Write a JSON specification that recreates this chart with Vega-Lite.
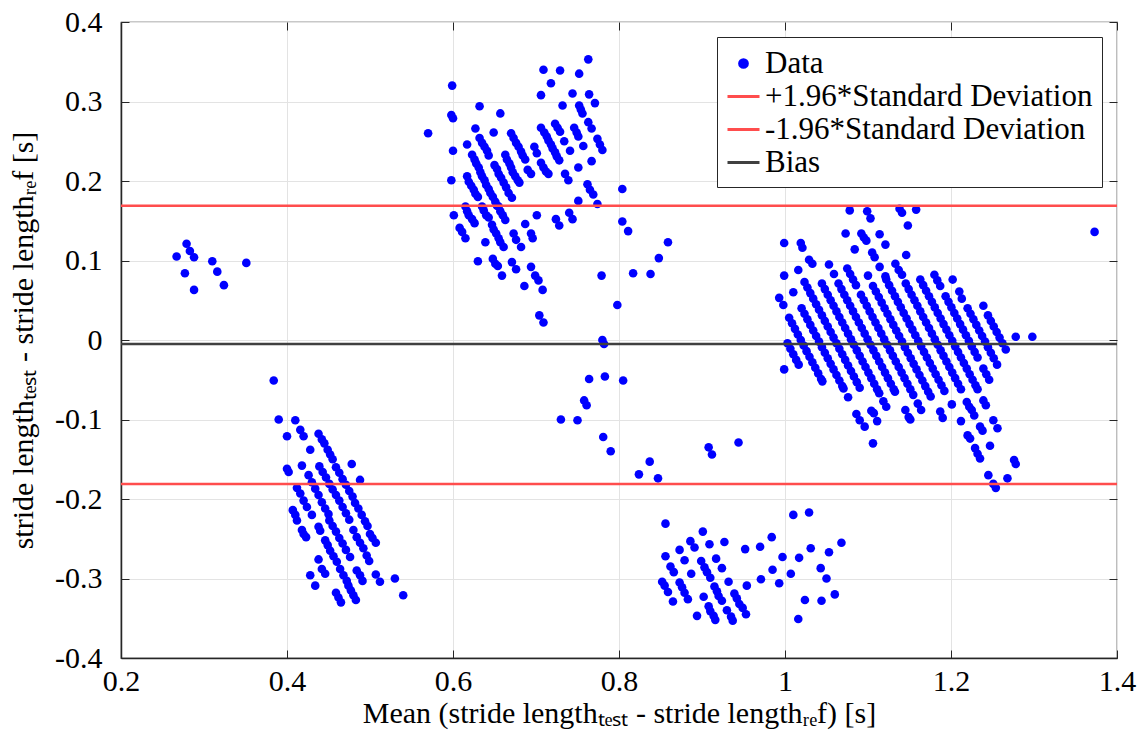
{
  "$schema": "https://vega.github.io/schema/vega-lite/v6.json",
  "width": 996,
  "height": 636,
  "autosize": {"type": "none"},
  "padding": {"left": 121, "top": 22, "right": 27, "bottom": 96},
  "background": "white",
  "config": {
    "view": {"stroke": "#262626", "strokeWidth": 1.2},
    "font": "Liberation Serif",
    "axis": {
      "labelFont": "Liberation Serif", "labelFontSize": 30, "labelColor": "#000000",
      "titleFont": "Liberation Serif", "titleFontSize": 30, "titleFontWeight": "normal", "titleColor": "#000000",
      "domainColor": "#262626", "domainWidth": 1.5, "tickColor": "#262626", "tickSize": -8, "tickWidth": 1,
      "gridColor": "#e3e3e3", "gridWidth": 1, "labelFlush": false, "labelOverlap": false
    },
    "legend": {
      "title": null,
      "orient": "top-right",
      "offset": 15,
      "padding": 9,
      "strokeColor": "#262626",
      "fillColor": "white",
      "labelFont": "Liberation Serif",
      "labelFontSize": 31,
      "labelColor": "#000000",
      "labelLimit": 600,
      "labelOffset": 4,
      "symbolType": "stroke",
      "symbolSize": 1024,
      "symbolStrokeWidth": 3,
      "rowPadding": -1
    }
  },
  "resolve": {"axis": {"x": "independent", "y": "independent"}},
  "datasets": {
    "pts": [
      {"x":0.267,"y":0.105},{"x":0.279,"y":0.121},{"x":0.283,"y":0.112},{"x":0.288,"y":0.104},{"x":0.277,"y":0.084},{"x":0.288,"y":0.063},{"x":0.310,"y":0.099},{"x":0.316,"y":0.086},{"x":0.324,"y":0.069},{"x":0.351,"y":0.097},
      {"x":0.599,"y":0.320},{"x":0.598,"y":0.283},{"x":0.600,"y":0.279},{"x":0.600,"y":0.238},{"x":0.598,"y":0.201},{"x":0.601,"y":0.157},{"x":0.632,"y":0.294},{"x":0.657,"y":0.285},{"x":0.627,"y":0.266},{"x":0.649,"y":0.261},{"x":0.617,"y":0.246},
      {"x":0.709,"y":0.340},{"x":0.729,"y":0.339},{"x":0.752,"y":0.335},{"x":0.763,"y":0.353},{"x":0.718,"y":0.323},{"x":0.706,"y":0.308},{"x":0.744,"y":0.310},{"x":0.764,"y":0.309},{"x":0.732,"y":0.295},{"x":0.771,"y":0.298},
      {"x":0.752,"y":0.295},{"x":0.754,"y":0.290},{"x":0.756,"y":0.285},{"x":0.763,"y":0.274},{"x":0.767,"y":0.266},{"x":0.706,"y":0.267},{"x":0.723,"y":0.272},{"x":0.726,"y":0.267},{"x":0.729,"y":0.262},
      {"x":0.746,"y":0.267},{"x":0.749,"y":0.261},{"x":0.751,"y":0.256},{"x":0.734,"y":0.250},{"x":0.741,"y":0.238},{"x":0.757,"y":0.244},{"x":0.774,"y":0.253},{"x":0.777,"y":0.246},{"x":0.780,"y":0.239},
      {"x":0.698,"y":0.243},{"x":0.701,"y":0.235},{"x":0.767,"y":0.225},{"x":0.751,"y":0.217},{"x":0.735,"y":0.209},{"x":0.739,"y":0.201},{"x":0.762,"y":0.196},{"x":0.765,"y":0.189},{"x":0.769,"y":0.183},
      {"x":0.751,"y":0.175},{"x":0.774,"y":0.171},{"x":0.724,"y":0.152},{"x":0.728,"y":0.144},{"x":0.740,"y":0.160},{"x":0.744,"y":0.152},{"x":0.701,"y":0.157},{"x":0.687,"y":0.146},{"x":0.694,"y":0.134},{"x":0.696,"y":0.128},
      {"x":0.690,"y":0.214},{"x":0.694,"y":0.209},{"x":0.706,"y":0.223},{"x":0.709,"y":0.217},{"x":0.712,"y":0.212},{"x":0.715,"y":0.209},
      {"x":0.710,"y":0.261},{"x":0.713,"y":0.256},{"x":0.715,"y":0.251},{"x":0.718,"y":0.246},{"x":0.720,"y":0.241},{"x":0.723,"y":0.236},{"x":0.725,"y":0.231},{"x":0.728,"y":0.226},
      {"x":0.670,"y":0.260},{"x":0.673,"y":0.254},{"x":0.676,"y":0.248},{"x":0.679,"y":0.243},{"x":0.682,"y":0.237},{"x":0.684,"y":0.232},{"x":0.687,"y":0.227},
      {"x":0.663,"y":0.233},{"x":0.665,"y":0.227},{"x":0.668,"y":0.222},{"x":0.670,"y":0.217},{"x":0.672,"y":0.211},{"x":0.675,"y":0.206},{"x":0.678,"y":0.201},{"x":0.680,"y":0.198},
      {"x":0.650,"y":0.220},{"x":0.653,"y":0.215},{"x":0.655,"y":0.209},{"x":0.658,"y":0.204},{"x":0.661,"y":0.198},{"x":0.664,"y":0.192},{"x":0.667,"y":0.185},{"x":0.671,"y":0.179},
      {"x":0.632,"y":0.254},{"x":0.635,"y":0.248},{"x":0.638,"y":0.243},{"x":0.641,"y":0.238},{"x":0.643,"y":0.232},
      {"x":0.623,"y":0.233},{"x":0.626,"y":0.227},{"x":0.628,"y":0.222},{"x":0.631,"y":0.217},{"x":0.633,"y":0.211},{"x":0.635,"y":0.206},{"x":0.638,"y":0.201},{"x":0.640,"y":0.195},{"x":0.643,"y":0.190},{"x":0.645,"y":0.185},{"x":0.648,"y":0.180},{"x":0.651,"y":0.174},{"x":0.653,"y":0.169},
      {"x":0.617,"y":0.206},{"x":0.619,"y":0.199},{"x":0.622,"y":0.194},{"x":0.625,"y":0.189},{"x":0.627,"y":0.184},{"x":0.630,"y":0.180},
      {"x":0.615,"y":0.168},{"x":0.617,"y":0.162},{"x":0.619,"y":0.157},{"x":0.623,"y":0.152},{"x":0.626,"y":0.147},
      {"x":0.608,"y":0.141},{"x":0.611,"y":0.136},{"x":0.615,"y":0.128},
      {"x":0.635,"y":0.168},{"x":0.637,"y":0.163},{"x":0.640,"y":0.157},{"x":0.643,"y":0.154},
      {"x":0.655,"y":0.168},{"x":0.657,"y":0.162},{"x":0.660,"y":0.157},{"x":0.663,"y":0.151},
      {"x":0.647,"y":0.145},{"x":0.649,"y":0.139},{"x":0.652,"y":0.134},{"x":0.655,"y":0.128},{"x":0.657,"y":0.123},{"x":0.661,"y":0.117},
      {"x":0.673,"y":0.134},{"x":0.676,"y":0.126},{"x":0.682,"y":0.117},{"x":0.639,"y":0.123},
      {"x":0.630,"y":0.099},{"x":0.648,"y":0.102},{"x":0.651,"y":0.096},{"x":0.654,"y":0.093},{"x":0.659,"y":0.081},{"x":0.671,"y":0.098},{"x":0.676,"y":0.089},
      {"x":0.694,"y":0.092},{"x":0.699,"y":0.081},{"x":0.703,"y":0.075},{"x":0.686,"y":0.068},{"x":0.708,"y":0.063},
      {"x":0.704,"y":0.031},{"x":0.709,"y":0.022},{"x":0.798,"y":0.044},{"x":0.780,"y":0.000},{"x":0.782,"y":-0.005},{"x":0.764,"y":-0.049},{"x":0.783,"y":-0.046},{"x":0.805,"y":-0.051},
      {"x":0.758,"y":-0.076},{"x":0.761,"y":-0.082},{"x":0.730,"y":-0.100},{"x":0.750,"y":-0.101},{"x":0.781,"y":-0.122},{"x":0.790,"y":-0.140},{"x":0.837,"y":-0.153},{"x":0.824,"y":-0.169},{"x":0.847,"y":-0.174},
      {"x":0.908,"y":-0.135},{"x":0.912,"y":-0.144},{"x":0.944,"y":-0.129},
      {"x":0.779,"y":0.081},{"x":0.817,"y":0.084},{"x":0.838,"y":0.083},{"x":0.848,"y":0.103},{"x":0.859,"y":0.123},{"x":0.804,"y":0.190},{"x":0.804,"y":0.149},{"x":0.811,"y":0.137},{"x":0.570,"y":0.260},
      {"x":0.384,"y":-0.051},{"x":0.390,"y":-0.100},{"x":0.410,"y":-0.101},{"x":0.416,"y":-0.113},{"x":0.420,"y":-0.121},{"x":0.400,"y":-0.121},
      {"x":0.438,"y":-0.118},{"x":0.442,"y":-0.125},{"x":0.445,"y":-0.130},{"x":0.449,"y":-0.138},{"x":0.452,"y":-0.144},{"x":0.455,"y":-0.150},
      {"x":0.428,"y":-0.138},{"x":0.400,"y":-0.162},{"x":0.402,"y":-0.166},{"x":0.418,"y":-0.158},{"x":0.478,"y":-0.156},{"x":0.488,"y":-0.176},
      {"x":0.426,"y":-0.170},{"x":0.430,"y":-0.179},{"x":0.434,"y":-0.187},{"x":0.438,"y":-0.195},{"x":0.442,"y":-0.204},{"x":0.446,"y":-0.212},{"x":0.450,"y":-0.219},
      {"x":0.439,"y":-0.159},{"x":0.443,"y":-0.166},{"x":0.447,"y":-0.173},{"x":0.451,"y":-0.181},{"x":0.455,"y":-0.188},{"x":0.459,"y":-0.195},{"x":0.463,"y":-0.202},{"x":0.467,"y":-0.210},{"x":0.471,"y":-0.218},{"x":0.475,"y":-0.226},
      {"x":0.459,"y":-0.160},{"x":0.463,"y":-0.167},{"x":0.467,"y":-0.175},{"x":0.471,"y":-0.182},{"x":0.475,"y":-0.190},{"x":0.479,"y":-0.197},{"x":0.482,"y":-0.205},{"x":0.486,"y":-0.212},{"x":0.490,"y":-0.220},{"x":0.494,"y":-0.228},{"x":0.497,"y":-0.234},{"x":0.500,"y":-0.244},{"x":0.503,"y":-0.249},{"x":0.507,"y":-0.255},
      {"x":0.412,"y":-0.186},{"x":0.416,"y":-0.193},{"x":0.420,"y":-0.202},{"x":0.424,"y":-0.210},{"x":0.430,"y":-0.220},
      {"x":0.407,"y":-0.214},{"x":0.410,"y":-0.220},{"x":0.412,"y":-0.227},{"x":0.418,"y":-0.239},{"x":0.420,"y":-0.244},{"x":0.423,"y":-0.248},{"x":0.438,"y":-0.235},{"x":0.440,"y":-0.240},
      {"x":0.451,"y":-0.227},{"x":0.455,"y":-0.234},{"x":0.459,"y":-0.241},{"x":0.463,"y":-0.249},{"x":0.467,"y":-0.256},{"x":0.471,"y":-0.264},{"x":0.476,"y":-0.273},
      {"x":0.446,"y":-0.252},{"x":0.449,"y":-0.258},{"x":0.452,"y":-0.265},
      {"x":0.480,"y":-0.239},{"x":0.484,"y":-0.248},{"x":0.488,"y":-0.255},{"x":0.492,"y":-0.262},{"x":0.496,"y":-0.271},{"x":0.499,"y":-0.278},
      {"x":0.456,"y":-0.272},{"x":0.460,"y":-0.279},{"x":0.464,"y":-0.288},{"x":0.468,"y":-0.296},{"x":0.472,"y":-0.303},
      {"x":0.438,"y":-0.276},{"x":0.442,"y":-0.288},{"x":0.446,"y":-0.294},{"x":0.428,"y":-0.296},{"x":0.434,"y":-0.309},
      {"x":0.474,"y":-0.309},{"x":0.477,"y":-0.315},{"x":0.480,"y":-0.321},{"x":0.483,"y":-0.327},{"x":0.484,"y":-0.290},{"x":0.488,"y":-0.296},{"x":0.491,"y":-0.303},
      {"x":0.507,"y":-0.295},{"x":0.512,"y":-0.304},{"x":0.530,"y":-0.300},{"x":0.540,"y":-0.321},{"x":0.459,"y":-0.318},{"x":0.462,"y":-0.324},{"x":0.465,"y":-0.330},
      {"x":0.856,"y":-0.231},{"x":0.901,"y":-0.241},{"x":0.886,"y":-0.253},{"x":0.891,"y":-0.261},{"x":0.909,"y":-0.257},{"x":0.927,"y":-0.254},{"x":0.873,"y":-0.264},{"x":0.856,"y":-0.272},{"x":0.879,"y":-0.277},{"x":0.899,"y":-0.278},
      {"x":0.917,"y":-0.275},{"x":0.862,"y":-0.285},{"x":0.866,"y":-0.292},{"x":0.887,"y":-0.294},{"x":0.903,"y":-0.286},{"x":0.906,"y":-0.292},{"x":0.910,"y":-0.299},{"x":0.924,"y":-0.287},{"x":0.952,"y":-0.263},{"x":0.970,"y":-0.260},
      {"x":0.984,"y":-0.248},{"x":0.997,"y":-0.273},{"x":1.017,"y":-0.274},{"x":0.985,"y":-0.289},{"x":0.971,"y":-0.301},{"x":0.954,"y":-0.309},{"x":0.932,"y":-0.304},{"x":0.993,"y":-0.306},{"x":1.007,"y":-0.294},{"x":1.010,"y":-0.220},
      {"x":1.029,"y":-0.217},{"x":1.031,"y":-0.262},{"x":1.053,"y":-0.267},{"x":1.068,"y":-0.255},{"x":1.043,"y":-0.287},{"x":1.050,"y":-0.300},{"x":1.024,"y":-0.327},{"x":1.044,"y":-0.328},{"x":1.060,"y":-0.320},{"x":1.016,"y":-0.351},
      {"x":0.852,"y":-0.304},{"x":0.855,"y":-0.309},{"x":0.859,"y":-0.317},{"x":0.865,"y":-0.329},{"x":0.873,"y":-0.305},{"x":0.876,"y":-0.311},{"x":0.879,"y":-0.318},{"x":0.883,"y":-0.326},{"x":0.902,"y":-0.323},{"x":0.894,"y":-0.347},
      {"x":0.915,"y":-0.310},{"x":0.918,"y":-0.316},{"x":0.920,"y":-0.322},{"x":0.924,"y":-0.328},{"x":0.908,"y":-0.335},{"x":0.910,"y":-0.341},{"x":0.914,"y":-0.347},{"x":0.916,"y":-0.352},
      {"x":0.939,"y":-0.319},{"x":0.942,"y":-0.325},{"x":0.945,"y":-0.332},{"x":0.949,"y":-0.337},{"x":0.953,"y":-0.345},{"x":0.930,"y":-0.340},{"x":0.935,"y":-0.348},{"x":0.937,"y":-0.353},
      {"x":1.003,"y":-0.004},{"x":1.0065,"y":-0.011},{"x":1.010,"y":-0.018},{"x":1.0135,"y":-0.025},{"x":1.0165,"y":-0.031},
      {"x":1.005,"y":0.028},{"x":1.0085,"y":0.021},{"x":1.012,"y":0.014},{"x":1.0155,"y":0.007},{"x":1.019,"y":0.000},{"x":1.0225,"y":-0.007},{"x":1.026,"y":-0.014},{"x":1.0295,"y":-0.021},{"x":1.033,"y":-0.028},{"x":1.0365,"y":-0.035},{"x":1.040,"y":-0.042},{"x":1.0435,"y":-0.049},{"x":1.045,"y":-0.052},
      {"x":1.020,"y":0.040},{"x":1.0235,"y":0.033},{"x":1.027,"y":0.026},{"x":1.0305,"y":0.019},{"x":1.034,"y":0.012},{"x":1.0375,"y":0.005},{"x":1.041,"y":-0.002},{"x":1.0445,"y":-0.009},{"x":1.048,"y":-0.016},{"x":1.0515,"y":-0.023},{"x":1.055,"y":-0.030},{"x":1.0585,"y":-0.037},{"x":1.062,"y":-0.044},{"x":1.0655,"y":-0.051},{"x":1.069,"y":-0.058},{"x":1.0705,"y":-0.061},
      {"x":1.0235,"y":0.073},{"x":1.027,"y":0.066},{"x":1.0305,"y":0.059},{"x":1.034,"y":0.052},{"x":1.0375,"y":0.045},{"x":1.041,"y":0.038},{"x":1.0445,"y":0.031},{"x":1.048,"y":0.024},{"x":1.0515,"y":0.017},{"x":1.055,"y":0.010},{"x":1.0585,"y":0.003},{"x":1.062,"y":-0.004},{"x":1.0655,"y":-0.011},{"x":1.069,"y":-0.018},{"x":1.0725,"y":-0.025},{"x":1.076,"y":-0.032},{"x":1.0795,"y":-0.039},{"x":1.083,"y":-0.046},{"x":1.0865,"y":-0.053},{"x":1.090,"y":-0.060},
      {"x":1.0445,"y":0.071},{"x":1.048,"y":0.064},{"x":1.0515,"y":0.057},{"x":1.055,"y":0.050},{"x":1.0585,"y":0.043},{"x":1.062,"y":0.036},{"x":1.0655,"y":0.029},{"x":1.069,"y":0.022},{"x":1.0725,"y":0.015},{"x":1.076,"y":0.008},{"x":1.0795,"y":0.001},{"x":1.083,"y":-0.006},{"x":1.0865,"y":-0.013},{"x":1.090,"y":-0.020},{"x":1.0935,"y":-0.027},{"x":1.097,"y":-0.034},{"x":1.1005,"y":-0.041},{"x":1.104,"y":-0.048},{"x":1.1075,"y":-0.055},{"x":1.111,"y":-0.062},{"x":1.1135,"y":-0.067},{"x":1.1185,"y":-0.077},{"x":1.122,"y":-0.084},
      {"x":1.0645,"y":0.071},{"x":1.068,"y":0.064},{"x":1.0715,"y":0.057},{"x":1.075,"y":0.050},{"x":1.0785,"y":0.043},{"x":1.082,"y":0.036},{"x":1.0855,"y":0.029},{"x":1.089,"y":0.022},{"x":1.0925,"y":0.015},{"x":1.096,"y":0.008},{"x":1.0995,"y":0.001},{"x":1.103,"y":-0.006},{"x":1.1065,"y":-0.013},{"x":1.110,"y":-0.020},{"x":1.1135,"y":-0.027},{"x":1.117,"y":-0.034},{"x":1.1205,"y":-0.041},{"x":1.124,"y":-0.048},{"x":1.1275,"y":-0.055},{"x":1.131,"y":-0.062},{"x":1.1325,"y":-0.065},
      {"x":1.075,"y":0.090},{"x":1.0785,"y":0.083},{"x":1.082,"y":0.076},{"x":1.0855,"y":0.069},{"x":1.0915,"y":0.057},{"x":1.095,"y":0.050},{"x":1.0985,"y":0.043},{"x":1.102,"y":0.036},{"x":1.1055,"y":0.029},{"x":1.109,"y":0.022},{"x":1.1125,"y":0.015},{"x":1.116,"y":0.008},{"x":1.1195,"y":0.001},{"x":1.123,"y":-0.006},{"x":1.1265,"y":-0.013},{"x":1.130,"y":-0.020},{"x":1.1335,"y":-0.027},{"x":1.137,"y":-0.034},{"x":1.1405,"y":-0.041},{"x":1.144,"y":-0.048},{"x":1.1475,"y":-0.055},{"x":1.151,"y":-0.062},{"x":1.1545,"y":-0.069},{"x":1.160,"y":-0.080},{"x":1.164,"y":-0.088},
      {"x":1.106,"y":0.068},{"x":1.1095,"y":0.061},{"x":1.113,"y":0.054},{"x":1.1165,"y":0.047},{"x":1.120,"y":0.040},{"x":1.1235,"y":0.033},{"x":1.127,"y":0.026},{"x":1.1305,"y":0.019},{"x":1.134,"y":0.012},{"x":1.1375,"y":0.005},{"x":1.141,"y":-0.002},{"x":1.1445,"y":-0.009},{"x":1.148,"y":-0.016},{"x":1.1515,"y":-0.023},{"x":1.155,"y":-0.030},{"x":1.1585,"y":-0.037},{"x":1.162,"y":-0.044},{"x":1.1655,"y":-0.051},{"x":1.169,"y":-0.058},{"x":1.1725,"y":-0.065},{"x":1.1755,"y":-0.071},
      {"x":1.122,"y":0.076},{"x":1.1255,"y":0.069},{"x":1.129,"y":0.062},{"x":1.1325,"y":0.055},{"x":1.136,"y":0.048},{"x":1.1395,"y":0.041},{"x":1.143,"y":0.034},{"x":1.1465,"y":0.027},{"x":1.150,"y":0.020},{"x":1.1535,"y":0.013},{"x":1.157,"y":0.006},{"x":1.1605,"y":-0.001},{"x":1.164,"y":-0.008},{"x":1.1675,"y":-0.015},{"x":1.171,"y":-0.022},{"x":1.1745,"y":-0.029},{"x":1.178,"y":-0.036},{"x":1.1815,"y":-0.043},{"x":1.185,"y":-0.050},{"x":1.1885,"y":-0.057},{"x":1.192,"y":-0.064},
      {"x":1.1455,"y":0.071},{"x":1.149,"y":0.064},{"x":1.1525,"y":0.057},{"x":1.156,"y":0.050},{"x":1.1595,"y":0.043},{"x":1.163,"y":0.036},{"x":1.1665,"y":0.029},{"x":1.170,"y":0.022},{"x":1.1735,"y":0.015},{"x":1.177,"y":0.008},{"x":1.1805,"y":0.001},{"x":1.184,"y":-0.006},{"x":1.1875,"y":-0.013},{"x":1.191,"y":-0.020},{"x":1.1945,"y":-0.027},{"x":1.198,"y":-0.034},{"x":1.2015,"y":-0.041},{"x":1.205,"y":-0.048},{"x":1.2085,"y":-0.055},{"x":1.212,"y":-0.062},
      {"x":1.163,"y":0.076},{"x":1.1665,"y":0.069},{"x":1.170,"y":0.062},{"x":1.1735,"y":0.055},{"x":1.177,"y":0.048},{"x":1.1805,"y":0.041},{"x":1.184,"y":0.034},{"x":1.1875,"y":0.027},{"x":1.191,"y":0.020},{"x":1.1945,"y":0.013},{"x":1.198,"y":0.006},{"x":1.2015,"y":-0.001},{"x":1.205,"y":-0.008},{"x":1.2085,"y":-0.015},{"x":1.212,"y":-0.022},{"x":1.2155,"y":-0.029},{"x":1.219,"y":-0.036},{"x":1.2225,"y":-0.043},{"x":1.226,"y":-0.050},{"x":1.2295,"y":-0.057},{"x":1.232,"y":-0.062},
      {"x":1.180,"y":0.082},{"x":1.1835,"y":0.075},{"x":1.187,"y":0.068},{"x":1.1935,"y":0.055},{"x":1.197,"y":0.048},{"x":1.2005,"y":0.041},{"x":1.204,"y":0.034},{"x":1.2075,"y":0.027},{"x":1.211,"y":0.020},{"x":1.2145,"y":0.013},{"x":1.218,"y":0.006},{"x":1.2215,"y":-0.001},{"x":1.225,"y":-0.008},{"x":1.2285,"y":-0.015},{"x":1.232,"y":-0.022},{"x":1.239,"y":-0.036},{"x":1.2425,"y":-0.043},{"x":1.246,"y":-0.050},
      {"x":1.202,"y":0.076},{"x":1.210,"y":0.061},{"x":1.213,"y":0.052},{"x":1.220,"y":0.040},{"x":1.2235,"y":0.033},{"x":1.227,"y":0.026},{"x":1.2305,"y":0.019},{"x":1.234,"y":0.012},{"x":1.2375,"y":0.005},{"x":1.241,"y":-0.002},{"x":1.2445,"y":-0.009},{"x":1.248,"y":-0.016},{"x":1.2515,"y":-0.023},{"x":1.2555,"y":-0.031},
      {"x":1.239,"y":0.043},{"x":1.2445,"y":0.031},{"x":1.248,"y":0.024},{"x":1.2515,"y":0.017},{"x":1.255,"y":0.010},{"x":1.2585,"y":0.003},{"x":1.262,"y":-0.004},{"x":1.266,"y":-0.012},
      {"x":1.078,"y":0.163},{"x":1.099,"y":0.162},{"x":1.103,"y":0.153},{"x":1.138,"y":0.165},{"x":1.141,"y":0.160},{"x":1.158,"y":0.164},{"x":1.148,"y":0.144},{"x":1.073,"y":0.134},{"x":1.092,"y":0.134},{"x":1.095,"y":0.129},
      {"x":1.098,"y":0.125},{"x":1.114,"y":0.133},{"x":1.121,"y":0.120},{"x":1.084,"y":0.114},{"x":1.105,"y":0.110},{"x":1.108,"y":0.104},{"x":1.146,"y":0.107},{"x":0.999,"y":0.122},{"x":1.019,"y":0.122},{"x":1.021,"y":0.116},
      {"x":1.029,"y":0.101},{"x":1.033,"y":0.096},{"x":1.053,"y":0.095},{"x":1.016,"y":0.088},{"x":0.999,"y":0.081},{"x":1.059,"y":0.083},{"x":1.100,"y":0.081},{"x":1.114,"y":0.092},{"x":1.121,"y":0.080},{"x":1.133,"y":0.096},
      {"x":1.137,"y":0.088},{"x":1.141,"y":0.082},{"x":1.278,"y":0.004},{"x":1.298,"y":0.004},{"x":1.373,"y":0.136},{"x":0.993,"y":0.053},{"x":0.998,"y":0.044},{"x":1.010,"y":0.060},{"x":0.999,"y":-0.037},
      {"x":1.076,"y":-0.072},{"x":1.086,"y":-0.093},{"x":1.090,"y":-0.101},{"x":1.096,"y":-0.109},{"x":1.106,"y":-0.130},{"x":1.111,"y":-0.102},{"x":1.104,"y":-0.089},{"x":1.107,"y":-0.092},{"x":1.145,"y":-0.088},{"x":1.149,"y":-0.097},
      {"x":1.151,"y":-0.100},{"x":1.187,"y":-0.090},{"x":1.190,"y":-0.098},{"x":1.201,"y":-0.081},{"x":1.212,"y":-0.102},{"x":1.219,"y":-0.078},{"x":1.222,"y":-0.084},{"x":1.225,"y":-0.088},{"x":1.228,"y":-0.095},{"x":1.235,"y":-0.109},
      {"x":1.238,"y":-0.114},{"x":1.239,"y":-0.076},{"x":1.242,"y":-0.082},{"x":1.251,"y":-0.101},{"x":1.256,"y":-0.111},{"x":1.247,"y":-0.133},{"x":1.220,"y":-0.120},{"x":1.223,"y":-0.124},{"x":1.229,"y":-0.136},{"x":1.232,"y":-0.143},
      {"x":1.235,"y":-0.149},{"x":1.245,"y":-0.170},{"x":1.251,"y":-0.181},{"x":1.254,"y":-0.186},{"x":1.268,"y":-0.174},{"x":1.276,"y":-0.151},{"x":1.278,"y":-0.156}
    ],
    "lines": [
      {"series": "+1.96*Standard Deviation", "y": 0.169},
      {"series": "-1.96*Standard Deviation", "y": -0.181},
      {"series": "Bias", "y": -0.005}
    ],
    "frame": [
      {"fx": 0.2, "fy": -0.4},
      {"fx": 1.4, "fy": 0.4}
    ]
  },
  "layer": [
    {
      "data": {"name": "pts"},
      "mark": {"type": "point", "filled": true, "shape": "circle", "size": 74, "opacity": 1},
      "encoding": {
        "x": {
          "field": "x", "type": "quantitative",
          "scale": {"domain": [0.2, 1.4], "nice": false, "zero": false},
          "axis": {
            "values": [0.2, 0.4, 0.6, 0.8, 1.0, 1.2, 1.4],
            "labelExpr": "replace(format(datum.value, '~g'), '\u2212', '-')",
            "labelPadding": 16,
            "title": "Mean (stride lengthₜₑₛₜ - stride lengthᵣₑf) [s]",
            "titlePadding": 2
          }
        },
        "y": {
          "field": "y", "type": "quantitative",
          "scale": {"domain": [-0.4, 0.4], "nice": false, "zero": false},
          "axis": {
            "values": [-0.4, -0.3, -0.2, -0.1, 0, 0.1, 0.2, 0.3, 0.4],
            "labelExpr": "replace(format(datum.value, '~g'), '\u2212', '-')",
            "labelPadding": 27,
            "title": "stride lengthₜₑₛₜ - stride lengthᵣₑf [s]",
            "titlePadding": 16
          }
        },
        "color": {
          "datum": "Data", "type": "nominal",
          "scale": {
            "domain": ["Data", "+1.96*Standard Deviation", "-1.96*Standard Deviation", "Bias"],
            "range": ["#0000ff", "#ff4d4d", "#ff4d4d", "#404040"]
          },
          "legend": {
            "title": null,
            "encode": {
              "symbols": {
                "update": {
                  "shape": {"signal": "datum.value === 'Data' ? 'circle' : 'stroke'"},
                  "size": {"signal": "datum.value === 'Data' ? 60 : 1024"},
                  "fill": {"signal": "datum.value === 'Data' ? '#0000ff' : 'transparent'"},
                  "stroke": {"signal": "datum.value === 'Data' ? 'transparent' : scale('color', datum.value)"},
                  "strokeWidth": {"value": 3},
                  "opacity": {"value": 1}
                }
              }
            }
          }
        }
      }
    },
    {
      "data": {"name": "lines"},
      "mark": {"type": "rule", "strokeWidth": 2.5},
      "encoding": {
        "y": {"field": "y", "type": "quantitative", "axis": null},
        "color": {
          "field": "series", "type": "nominal",
          "legend": {
            "title": null,
            "encode": {
              "symbols": {
                "update": {
                  "shape": {"signal": "datum.value === 'Data' ? 'circle' : 'stroke'"},
                  "size": {"signal": "datum.value === 'Data' ? 60 : 1024"},
                  "fill": {"signal": "datum.value === 'Data' ? '#0000ff' : 'transparent'"},
                  "stroke": {"signal": "datum.value === 'Data' ? 'transparent' : scale('color', datum.value)"},
                  "strokeWidth": {"value": 3},
                  "opacity": {"value": 1}
                }
              }
            }
          }
        }
      }
    },
    {
      "data": {"name": "frame"},
      "mark": {"type": "point", "opacity": 0},
      "encoding": {
        "x": {
          "field": "fx", "type": "quantitative",
          "axis": {"orient": "top", "values": [0.2, 0.4, 0.6, 0.8, 1.0, 1.2, 1.4], "labels": false, "title": null, "grid": false, "domain": false}
        },
        "y": {
          "field": "fy", "type": "quantitative",
          "axis": {"orient": "right", "values": [-0.4, -0.3, -0.2, -0.1, 0, 0.1, 0.2, 0.3, 0.4], "labels": false, "title": null, "grid": false, "domain": false}
        }
      }
    }
  ]
}
